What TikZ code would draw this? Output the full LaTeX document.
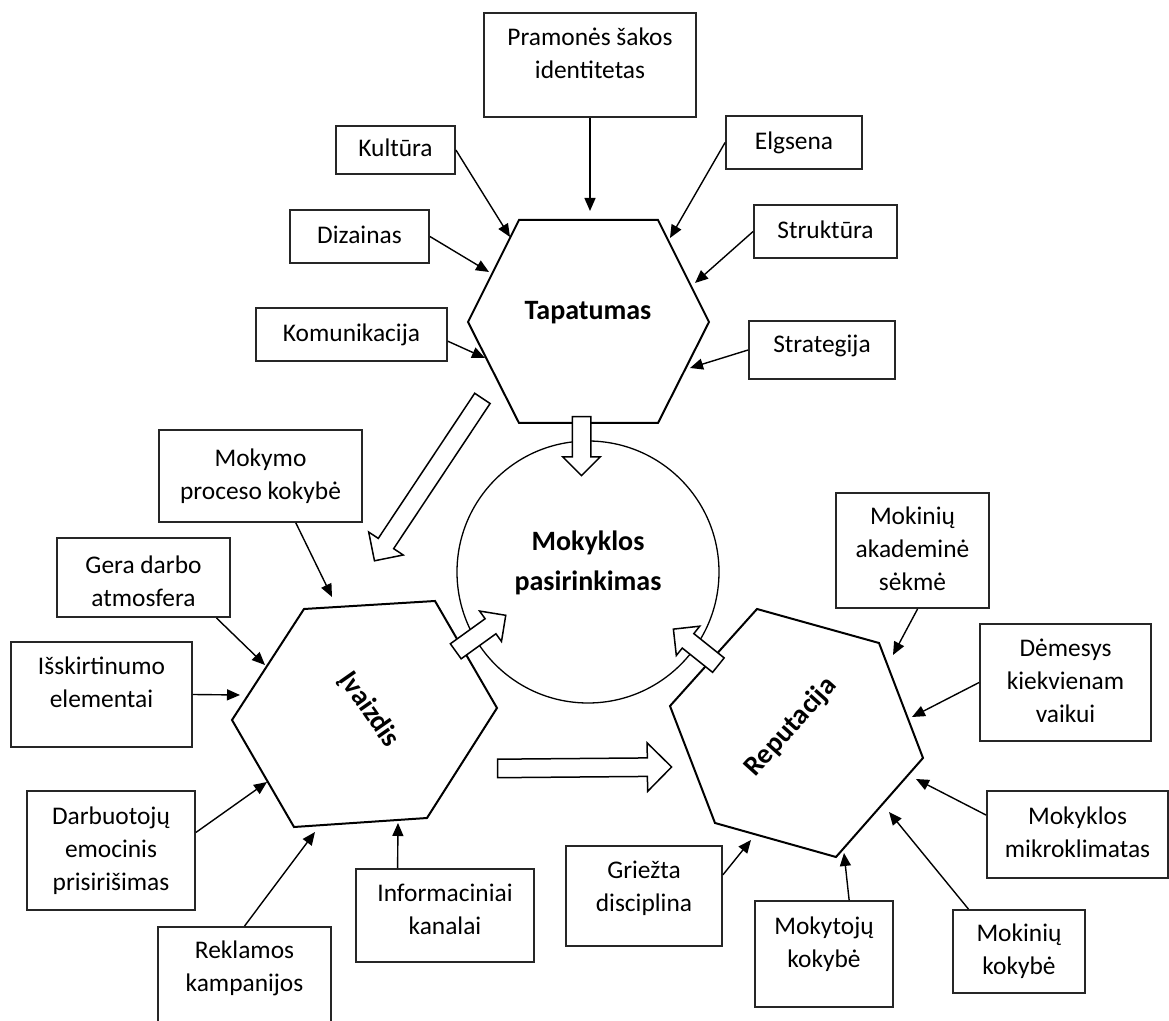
\documentclass[tikz,border=0pt]{standalone}
\usepackage{fontspec}
\setmainfont{Carlito}
\usetikzlibrary{arrows.meta,shapes.arrows,calc}
\tikzset{
  every picture/.style={x=0.5pt, y=-0.5pt},
  factor/.style 2 args={draw=black!85, line width=0.9pt, inner sep=0pt,
      minimum width=#1*0.5pt, minimum height=#2*0.5pt,
      font=\fontsize{12.7}{16.5}\selectfont},
  hexa/.style={draw, line width=1pt, line join=miter},
  hlabel/.style={font=\fontsize{14}{20}\selectfont\bfseries, inner sep=0pt},
  feed/.style={-{Triangle[length=6.5pt,width=5.5pt]}, line width=0.7pt},
  bigarrow/.style={single arrow, draw, fill=white, line width=0.75pt,
      inner xsep=0pt, inner ysep=4.25pt, minimum width=0pt,
      single arrow head extend=#1, sloped, allow upside down},
  bigarrow/.default=4.75pt,
}
% text block of a box, lifted by #1 inside its frame
\newcommand{\btext}[2][0pt]{\raisebox{#1}[\height][\depth]{%
  \begin{tabular}{@{}c@{}}#2\end{tabular}}}

\begin{document}
\begin{tikzpicture}
  \useasboundingbox (0,0) rectangle (1169,1021);

  % centres
  \coordinate (tap) at (588.5,322);
  \coordinate (iv) at (365,714);
  \coordinate (rep) at (797,733);

  % hexagons
  \draw[hexa, shift={(tap)}] (-120.5,0) -- (-69.5,-102) -- (69.5,-102)
        -- (120.5,0) -- (69.5,101) -- (-69.5,101) -- cycle;
  \draw[hexa] (304,609) -- (435,601) -- (497,708) -- (427,818)
        -- (294,827) -- (232,720) -- cycle;
  \draw[hexa] (757,609) -- (879,643) -- (923,758) -- (836,857)
        -- (715,823) -- (670,706) -- cycle;
  \node[hlabel] (tapt) at (588,313) {Tapatumas};
  \node[hlabel, rotate=-55] (ivt) at (369,710) {Įvaizdis};
  \node[hlabel, rotate=48] (rept) at (791,727) {Reputacija};

  \node[circle, draw, line width=0.65pt, minimum size=131pt, inner sep=0pt,
        font=\fontsize{14}{20}\selectfont\bfseries] (choice) at (588,572)
        {\btext[4.5pt]{Mokyklos\\pasirinkimas}};

  % factor boxes
  \node[factor={212}{104}] (pram) at (590,65) {\btext[5pt]{Pramonės šakos\\identitetas}};
  \node[factor={119}{48}] (kult) at (395.5,150) {\btext{Kultūra}};
  \node[factor={136}{53}] (elg) at (794,142.5) {\btext{Elgsena}};
  \node[factor={139}{53}] (diz) at (359.5,236.5) {\btext{Dizainas}};
  \node[factor={143}{53}] (strk) at (825.5,231.5) {\btext{Struktūra}};
  \node[factor={191}{53}] (kom) at (351.5,334.5) {\btext{Komunikacija}};
  \node[factor={146}{58}] (strat) at (822,350) {\btext[2pt]{Strategija}};
  \node[factor={203}{92}] (mok) at (260.5,476) {\btext{Mokymo\\proceso kokybė}};
  \node[factor={173}{79}] (gera) at (143.5,577.5) {\btext[-3pt]{Gera darbo\\atmosfera}};
  \node[factor={181}{105}] (issk) at (101.5,694.5) {\btext[5pt]{Išskirtinumo\\elementai}};
  \node[factor={168}{119}] (darb) at (111,850.5) {\btext{Darbuotojų\\emocinis\\prisirišimas}};
  \node[factor={173}{114}] (rekl) at (244.5,984) {\btext[8pt]{Reklamos\\kampanijos}};
  \node[factor={178}{93}] (info) at (445,915.5) {\btext[2pt]{Informaciniai\\kanalai}};
  \node[factor={156}{100}] (griez) at (644,896) {\btext[3.75pt]{Griežta\\disciplina}};
  \node[factor={138}{106}] (mkt) at (824,954) {\btext[5pt]{Mokytojų\\kokybė}};
  \node[factor={132}{83}] (mkk) at (1019,951.5) {\btext{Mokinių\\kokybė}};
  \node[factor={153}{115}] (akad) at (912.5,550.5) {\btext{Mokinių\\akademinė\\sėkmė}};
  \node[factor={171}{117}] (dem) at (1065.5,682.5) {\btext{Dėmesys\\kiekvienam\\vaikui}};
  \node[factor={181}{87}] (mikro) at (1077.5,834.5) {\btext{Mokyklos\\mikroklimatas}};

  % arrow tips on the hexagons
  \coordinate (tpram) at (590,211);
  \coordinate (tkult) at (510,237);
  \coordinate (tdiz) at (489,272);
  \coordinate (tkom) at (485,358);
  \coordinate (telg) at (670,238);
  \coordinate (tstrk) at (695,283);
  \coordinate (tstrat) at (690,368);
  \coordinate (tmok) at (332,597);
  \coordinate (tgera) at (265,665);
  \coordinate (tissk) at (240,695);
  \coordinate (tdarb) at (267,782);
  \coordinate (trekl) at (315,832);
  \coordinate (tinfo) at (398,823);
  \coordinate (takad) at (893,655);
  \coordinate (tdem) at (912,717);
  \coordinate (tmikro) at (916,779);
  \coordinate (tmkk) at (889,812);
  \coordinate (tmkt) at (844,853);
  \coordinate (tgriez) at (751,840);

  \foreach \src/\tip in {pram.south/tpram, kult.east/tkult, diz.east/tdiz,
      kom.-4/tkom, elg.west/telg, strk.west/tstrk, strat.west/tstrat,
      mok.-53/tmok, gera.-29/tgera, issk.east/tissk, darb.12/tdarb,
      rekl.north/trekl, info.135/tinfo, akad.-85/takad, dem.west/tdem,
      mikro.168/tmikro, mkk.140/tmkk, mkt.65/tmkt, griez.15/tgriez}
    \draw[feed] (\src) -- (\tip);

  % hollow arrows
  \coordinate (h1s) at (581.5,412);  \coordinate (h1e) at (581.5,471);
  \coordinate (h2s) at (485,394.5);  \coordinate (h2e) at (377,557);
  \coordinate (h3s) at (493,768.5);  \coordinate (h3e) at (667,767);
  \coordinate (h4s) at (452,654);    \coordinate (h4e) at (502,618);
  \coordinate (h5s) at (722,668);    \coordinate (h5e) at (677,632);
  \path (h1s) -- node[bigarrow, minimum height=29.5pt] (h1) {} (h1e);
  \path (h2s) -- node[bigarrow=5.75pt, minimum height=97.5pt] (h2) {} (h2e);
  \path (h3s) -- node[bigarrow=7.5pt, minimum height=87pt] (h3) {} (h3e);
  \path (h4s) -- node[bigarrow, minimum height=30.8pt] (h4) {} (h4e);
  \path (h5s) -- node[bigarrow, minimum height=28.8pt] (h5) {} (h5e);
\end{tikzpicture}
\end{document}
